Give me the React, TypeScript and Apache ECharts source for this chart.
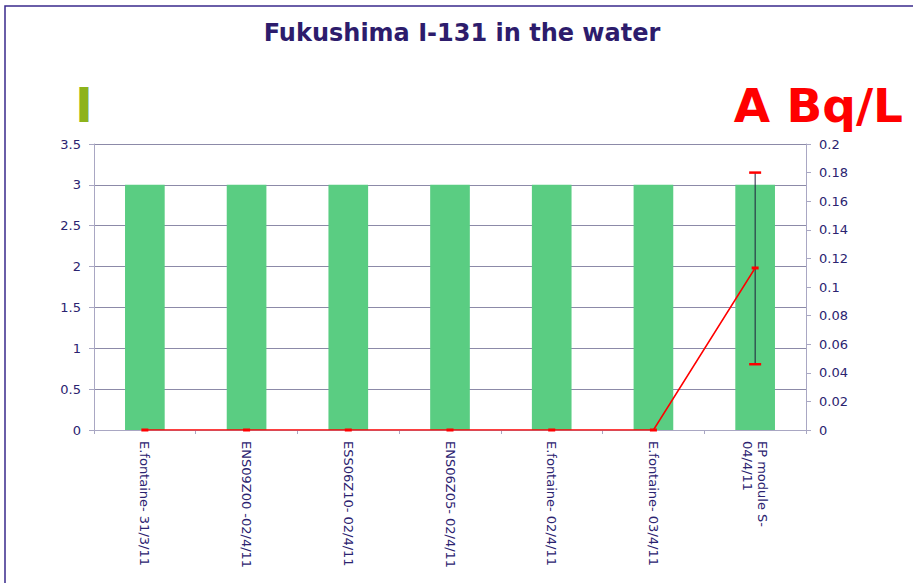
import React, { useEffect, useRef } from "react";
import * as echarts from "echarts";

const categories = [
  "E.fontaine- 31/3/11",
  "ENS09Z00 -02/4/11",
  "ESS06Z10- 02/4/11",
  "ENS06Z05- 02/4/11",
  "E.fontaine- 02/4/11",
  "E.fontaine- 03/4/11",
  "EP module S-\n04/4/11",
];
const barValues = [3, 3, 3, 3, 3, 3, 3];
const lineValues = [0, 0, 0, 0, 0, 0, 0.1133];
const errLow = [null, null, null, null, null, null, 0.046];
const errHigh = [null, null, null, null, null, null, 0.18];
const leftTicks = { min: 0, max: 3.5, interval: 0.5 };
const rightTicks = { min: 0, max: 0.2, interval: 0.02 };

const TEXT = "#2b2370";
const AXIS = "#a9a7c3";
const FONT = "DejaVu Sans, Verdana, sans-serif";

export default function App() {
  const ref = useRef<HTMLDivElement>(null);
  useEffect(() => {
    if (!ref.current) return;
    const chart = echarts.init(ref.current, null, { renderer: "svg" });
    const errData = categories
      .map((c, i) => (errLow[i] != null ? [i, errLow[i], errHigh[i]] : null))
      .filter((d) => d != null);
    chart.setOption({
      animation: false,
      backgroundColor: "#ffffff",
      textStyle: { fontFamily: FONT },
      grid: { left: 94, right: 107, top: 144, bottom: 153, containLabel: false },
      xAxis: {
        type: "category",
        data: categories,
        boundaryGap: true,
        axisLine: { lineStyle: { color: AXIS, width: 1 } },
        axisTick: { show: true, length: 4, lineStyle: { color: AXIS } },
        axisLabel: {
          rotate: -90,
          interval: 0,
          margin: 11,
          color: TEXT,
          fontSize: 13,
          fontFamily: FONT,
          lineHeight: 15,
        },
        splitLine: { show: false },
      },
      yAxis: [
        {
          type: "value",
          ...leftTicks,
          position: "left",
          axisLine: { show: true, lineStyle: { color: AXIS } },
          axisTick: { show: true, length: 5, lineStyle: { color: AXIS } },
          axisLabel: { color: TEXT, fontSize: 13, fontFamily: FONT, margin: 13 },
          splitLine: { show: true, lineStyle: { color: "#8c8aa8", width: 1 } },
        },
        {
          type: "value",
          ...rightTicks,
          position: "right",
          axisLine: { show: true, lineStyle: { color: AXIS } },
          axisTick: { show: true, length: 5, lineStyle: { color: AXIS } },
          axisLabel: { color: TEXT, fontSize: 13, fontFamily: FONT, margin: 13 },
          splitLine: { show: false },
        },
      ],
      series: [
        {
          type: "bar",
          data: barValues,
          yAxisIndex: 0,
          barWidth: "39%",
          itemStyle: { color: "#5acd82" },
        },
        {
          type: "line",
          data: lineValues,
          yAxisIndex: 1,
          lineStyle: { color: "#ff0000", width: 1.5 },
          itemStyle: { color: "#ff0000" },
          symbol: "rect",
          symbolSize: [7, 3],
          showAllSymbol: true,
          z: 5,
        },
        {
          type: "custom",
          yAxisIndex: 1,
          data: errData,
          z: 4,
          renderItem: (params: any, api: any) => {
            const lo = api.coord([api.value(0), api.value(1)]);
            const hi = api.coord([api.value(0), api.value(2)]);
            const cw = 6;
            return {
              type: "group",
              children: [
                {
                  type: "line",
                  shape: { x1: lo[0], y1: lo[1], x2: hi[0], y2: hi[1] },
                  style: { stroke: "#1e1f3c", lineWidth: 1 },
                },
                {
                  type: "line",
                  shape: { x1: lo[0] - cw, y1: lo[1], x2: lo[0] + cw, y2: lo[1] },
                  style: { stroke: "#ff0000", lineWidth: 2.5 },
                },
                {
                  type: "line",
                  shape: { x1: hi[0] - cw, y1: hi[1], x2: hi[0] + cw, y2: hi[1] },
                  style: { stroke: "#ff0000", lineWidth: 2.5 },
                },
              ],
            };
          },
        },
      ],
      graphic: [
        {
          type: "polyline",
          shape: { points: [[5, 583], [5, 6], [913, 6]] },
          style: { stroke: "#3a2a8c", lineWidth: 1.5, fill: null },
        },
        {
          type: "text",
          x: 462,
          y: 33,
          style: {
            text: "Fukushima I-131 in the water",
            fontFamily: FONT,
            fontWeight: "bold",
            fontSize: 24,
            fill: "#2d1c6c",
            textAlign: "center",
            textVerticalAlign: "middle",
          },
        },
        {
          type: "text",
          x: 84,
          y: 105,
          style: {
            text: "I",
            fontFamily: FONT,
            fontWeight: "bold",
            fontSize: 48,
            fill: "#8db31b",
            textAlign: "center",
            textVerticalAlign: "middle",
          },
        },
        {
          type: "text",
          x: 903,
          y: 105,
          style: {
            text: "A Bq/L",
            fontFamily: FONT,
            fontWeight: "bold",
            fontSize: 47,
            fill: "#ff0000",
            textAlign: "right",
            textVerticalAlign: "middle",
          },
        },
      ],
    });
    return () => chart.dispose();
  }, []);
  return (
    <div
      ref={ref}
      style={{ position: "fixed", left: 0, top: 0, width: 913, height: 583 }}
    />
  );
}
